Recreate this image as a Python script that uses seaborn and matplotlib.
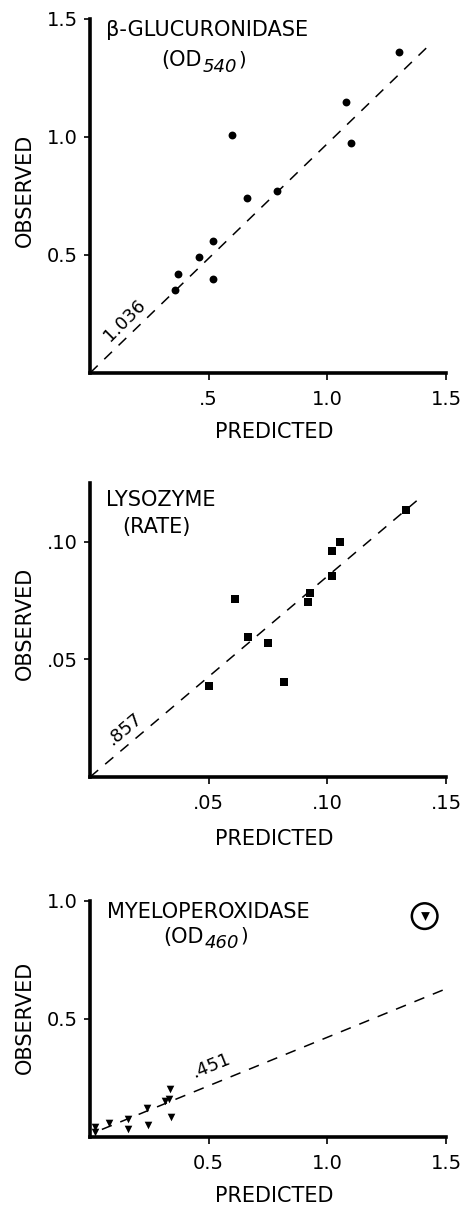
import numpy as np
import pandas as pd
import matplotlib
matplotlib.use("Agg")
import matplotlib.pyplot as plt
import seaborn as sns

# ---------------- data ----------------
# beta-glucuronidase (OD540)
gluc_pred = [0.36, 0.37, 0.46, 0.52, 0.52, 0.60, 0.66, 0.79, 1.08, 1.10, 1.30]
gluc_obs = [0.35, 0.42, 0.49, 0.40, 0.56, 1.01, 0.74, 0.77, 1.15, 0.975, 1.36]
gluc_fit_x = [0.0, 1.42]
gluc_fit_y = [0.0, 1.38]
gluc_fit_label = "1.036"

# lysozyme (rate)
lyso_pred = [0.050, 0.061, 0.0665, 0.075, 0.0817, 0.092, 0.0925, 0.102, 0.102, 0.1055, 0.133]
lyso_obs = [0.0386, 0.0758, 0.0597, 0.0568, 0.0402, 0.0746, 0.0784, 0.0856, 0.096, 0.100, 0.1136]
lyso_fit_x = [0.0, 0.139]
lyso_fit_y = [0.0, 0.1186]
lyso_fit_label = ".857"

# myeloperoxidase (OD460)
myelo_pred = [0.02, 0.02, 0.082, 0.16, 0.162, 0.24, 0.244, 0.318, 0.332, 0.336, 0.342]
myelo_obs = [0.042, 0.021, 0.058, 0.075, 0.034, 0.124, 0.051, 0.153, 0.161, 0.203, 0.086]
myelo_outlier_pred = [1.41]
myelo_outlier_obs = [0.936]
myelo_fit_x = [0.05, 1.5]
myelo_fit_y = [0.032, 0.628]
myelo_fit_label = ".451"

gluc_xticks = [0.5, 1.0, 1.5]
gluc_xticklabels = [".5", "1.0", "1.5"]
gluc_yticks = [0.5, 1.0, 1.5]
gluc_yticklabels = ["0.5", "1.0", "1.5"]
lyso_xticks = [0.05, 0.10, 0.15]
lyso_xticklabels = [".05", ".10", ".15"]
lyso_yticks = [0.05, 0.10]
lyso_yticklabels = [".05", ".10"]
myelo_xticks = [0.5, 1.0, 1.5]
myelo_xticklabels = ["0.5", "1.0", "1.5"]
myelo_yticks = [0.5, 1.0]
myelo_yticklabels = ["0.5", "1.0"]

# ---------------- style ----------------
sns.set_style("ticks")
plt.rcParams["font.family"] = ["DejaVu Sans"]
plt.rcParams["mathtext.fontset"] = "dejavusans"
plt.rcParams["text.color"] = "black"
plt.rcParams["axes.labelcolor"] = "black"
plt.rcParams["xtick.color"] = "black"
plt.rcParams["ytick.color"] = "black"

FS = 14
LFS = 15
W, H = 461, 1207
fig = plt.figure(figsize=(W / 100, H / 100), dpi=100)


def make_ax(left, top, right, bottom):
    return fig.add_axes([left / W, 1 - bottom / H, (right - left) / W, (bottom - top) / H])


ax1 = make_ax(90, 19, 446, 373)
ax2 = make_ax(90, 483, 446, 777)
ax3 = make_ax(90, 901, 446, 1137)

dash = (0, (7, 6))


def style(ax, xlim, ylim, xt, xtl, yt, ytl, xl_y, yl_y):
    ax.set_xlim(*xlim)
    ax.set_ylim(*ylim)
    ax.set_xticks(xt)
    ax.set_xticklabels(xtl)
    ax.set_yticks(yt)
    ax.set_yticklabels(ytl)
    for s in ["top", "right"]:
        ax.spines[s].set_visible(False)
    for s in ["left", "bottom"]:
        ax.spines[s].set_linewidth(2.6)
        ax.spines[s].set_color("black")
    ax.tick_params(axis="x", direction="out", length=5, width=1.2, pad=7,
                   labelsize=FS, colors="black")
    ax.tick_params(axis="y", direction="out", length=4, width=1.2, pad=5,
                   labelsize=FS, colors="black")
    ax.set_xlabel("PREDICTED", fontsize=LFS, color="black")
    ax.set_ylabel("OBSERVED", fontsize=LFS, color="black")
    ax.xaxis.set_label_coords(0.517, xl_y)
    ax.yaxis.set_label_coords(-0.183, yl_y)
    ax.xaxis.label.set_va("center")
    ax.yaxis.label.set_va("center")
    ax.set_facecolor("white")


def od_label(ax, x, y, sub):
    t1 = ax.text(x, y, "(OD", transform=ax.transAxes, fontsize=LFS,
                 ha="left", va="top", color="black")
    t2 = ax.annotate(sub, xy=(1, 0), xycoords=t1, xytext=(1, -1),
                     textcoords="offset points", fontsize=13, fontstyle="italic",
                     ha="left", va="baseline", color="black")
    ax.annotate(")", xy=(1, 1), xycoords=(t2, t1), xytext=(1, 0),
                textcoords="offset points", fontsize=14, ha="left", va="top",
                color="black")


# ---- panel 1 ----
sns.scatterplot(x=gluc_pred, y=gluc_obs, ax=ax1, marker="o", color="black",
                s=32, linewidth=0, clip_on=False)
sns.lineplot(x=gluc_fit_x, y=gluc_fit_y, ax=ax1, color="black", lw=1.1,
             linestyle=dash, sort=False, estimator=None)
style(ax1, (0, 1.5), (0, 1.5), gluc_xticks, gluc_xticklabels,
      gluc_yticks, gluc_yticklabels, -0.167, 0.517)
ax1.text(0.045, 0.997, "β-GLUCURONIDASE", transform=ax1.transAxes,
         fontsize=LFS, ha="left", va="top")
od_label(ax1, 0.199, 0.912, "540")
ax1.text(0.145, 0.222, gluc_fit_label, fontsize=FS - 1, rotation=45,
         ha="center", va="center", rotation_mode="anchor")

# ---- panel 2 ----
sns.scatterplot(x=lyso_pred, y=lyso_obs, ax=ax2, marker="s", color="black",
                s=36, linewidth=0, clip_on=False)
sns.lineplot(x=lyso_fit_x, y=lyso_fit_y, ax=ax2, color="black", lw=1.1,
             linestyle=dash, sort=False, estimator=None)
style(ax2, (0, 0.15), (0, 0.125), lyso_xticks, lyso_xticklabels,
      lyso_yticks, lyso_yticklabels, -0.211, 0.524)
ax2.text(0.045, 0.976, "LYSOZYME", transform=ax2.transAxes,
         fontsize=LFS, ha="left", va="top")
ax2.text(0.09, 0.884, "(RATE)", transform=ax2.transAxes,
         fontsize=LFS, ha="left", va="top")
ax2.text(0.0145, 0.0205, lyso_fit_label, fontsize=FS - 1, rotation=40,
         ha="center", va="center", rotation_mode="anchor")

# ---- panel 3 ----
sns.scatterplot(x=myelo_pred, y=myelo_obs, ax=ax3, marker="v", color="black",
                s=30, linewidth=0, clip_on=False)
sns.scatterplot(x=myelo_outlier_pred, y=myelo_outlier_obs, ax=ax3, marker="v",
                color="black", s=40, linewidth=0, clip_on=False)
ax3.scatter(myelo_outlier_pred, myelo_outlier_obs, marker="o", s=340,
            facecolors="none", edgecolors="black", linewidths=1.8, clip_on=False)
sns.lineplot(x=myelo_fit_x, y=myelo_fit_y, ax=ax3, color="black", lw=1.1,
             linestyle=dash, sort=False, estimator=None)
style(ax3, (0, 1.5), (0, 1.0), myelo_xticks, myelo_xticklabels,
      myelo_yticks, myelo_yticklabels, -0.25, 0.508)
ax3.text(0.048, 0.996, "MYELOPEROXIDASE", transform=ax3.transAxes,
         fontsize=LFS, ha="left", va="top")
od_label(ax3, 0.205, 0.89, "460")
ax3.text(0.508, 0.30, myelo_fit_label, fontsize=FS - 1, rotation=22,
         ha="center", va="center", rotation_mode="anchor")

fig.savefig("out.png", dpi=100, facecolor="white")
